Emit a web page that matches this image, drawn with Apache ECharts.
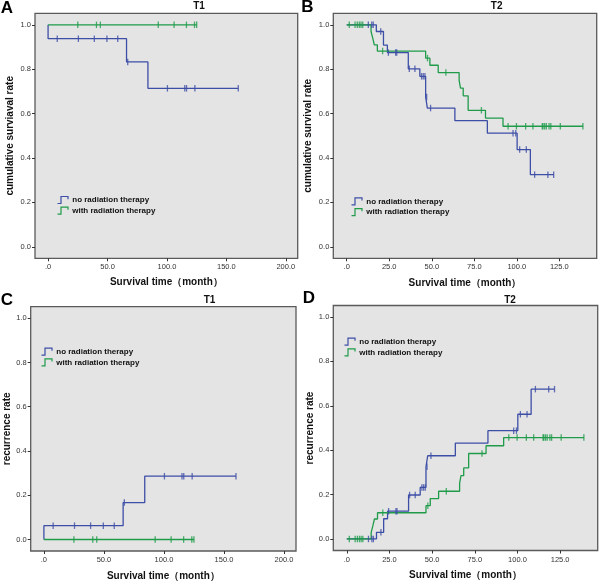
<!DOCTYPE html>
<html><head><meta charset="utf-8">
<script src="https://cdn.jsdelivr.net/npm/echarts@6/dist/echarts.min.js"></script>
<style>html,body{margin:0;padding:0;background:#fff}#c{width:600px;height:584px}</style>
</head><body><div id="c"></div>
<script>
// ---- Data ----
const groupNames = ['no radiation therapy', 'with radiation therapy'];
const yTicks = [0, 0.2, 0.4, 0.6, 0.8, 1.0];
const t1XTicks = [0, 50, 100, 150, 200];
const t2XTicks = [0, 25, 50, 75, 100, 125];

// T1, no radiation therapy
const t1NoTimes = [0, 0, 66, 84, 160];
const t1NoSurvival = [1, 0.9375, 0.833, 0.714, 0.714];
const t1NoRecurrence = [0, 0.0625, 0.167, 0.286, 0.286];
const t1NoCensored = [7.7, 25.5, 38.9, 49.5, 58.6, 67, 100.4, 115, 116.5, 123.5, 160];
// T1, with radiation therapy
const t1WithTimes = [0, 125];
const t1WithSurvival = [1, 1];
const t1WithRecurrence = [0, 0];
const t1WithCensored = [25, 40.7, 44, 92.7, 106, 116.4, 123.2, 125];

// T2, no radiation therapy
const t2NoTimes = [0, 17.4, 21.6, 23.9, 36.2, 43, 46.4, 47.4, 63.6, 82.7, 100.2, 108, 121.7];
const t2NoSurvival = [1, 0.97, 0.909, 0.875, 0.802, 0.768, 0.675, 0.625, 0.568, 0.512, 0.438, 0.325, 0.325];
const t2NoRecurrence = [0, 0.03, 0.091, 0.125, 0.198, 0.232, 0.325, 0.375, 0.432, 0.488, 0.562, 0.675, 0.675];
const t2NoCensored = [12.7, 14.7, 15.6, 20, 24.5, 28.8, 29.4, 36.8, 40.1, 44, 45, 46, 47, 49.3, 97.8, 99.4, 101.7, 105.6, 110.5, 118.3, 121.7];
// T2, with radiation therapy
const t2WithTimes = [0, 14.3, 15.3, 16.2, 18, 46.4, 48.9, 53.8, 66.1, 66.9, 68.5, 71.4, 81.6, 91.9, 138.9];
const t2WithSurvival = [1, 0.97, 0.94, 0.91, 0.882, 0.85, 0.818, 0.785, 0.75, 0.715, 0.68, 0.615, 0.58, 0.543, 0.543];
const t2WithRecurrence = [0, 0.03, 0.06, 0.09, 0.118, 0.15, 0.182, 0.215, 0.25, 0.285, 0.32, 0.385, 0.42, 0.457, 0.457];
const t2WithCensored = [1.5, 4.9, 6.2, 7.4, 8.4, 9.4, 21.1, 47.5, 58.3, 79.2, 94.9, 99.8, 105.2, 109.5, 115, 115.4, 116.4, 117.4, 119, 120, 125.6, 138.9];

// ---- Styling / layout ----
const BLUE = '#3d4ea6';
const GREEN = '#1f9b4a';
const FONT = "'Liberation Sans Narrow', 'Liberation Sans', Arial, sans-serif";
const TITLE_FONT = "'Liberation Sans', Arial, sans-serif";

const panels = [
  { letter: 'A', title: 'T1', grid: { left: 35, top: 13.3, width: 262.7, height: 245 }, xr: [-11, 210], xt: t1XTicks,
    yName: 'cumulative surviaval rate', yGap: 20, xGap: 19,
    curves: [[t1NoTimes, t1NoSurvival, t1NoCensored], [t1WithTimes, t1WithSurvival, t1WithCensored]],
    legendPos: { left: 55, top: 194 }, letterPos: [7, 8], titlePos: [199, 6.5] },
  { letter: 'B', title: 'T2', grid: { left: 333.3, top: 13.3, width: 263.4, height: 245 }, xr: [-7.9, 147], xt: t2XTicks,
    yName: 'cumulative survival rate', yGap: 20, xGap: 20,
    curves: [[t2NoTimes, t2NoSurvival, t2NoCensored], [t2WithTimes, t2WithSurvival, t2WithCensored]],
    legendPos: { left: 349, top: 195.4 }, letterPos: [307.5, 7], titlePos: [496.7, 6.5] },
  { letter: 'C', title: 'T1', grid: { left: 30.7, top: 306.7, width: 265.3, height: 244.3 }, xr: [-11, 210], xt: t1XTicks,
    yName: 'recurrence rate', yGap: 18.5, xGap: 20,
    curves: [[t1NoTimes, t1NoRecurrence, t1NoCensored], [t1WithTimes, t1WithRecurrence, t1WithCensored]],
    legendPos: { left: 39, top: 345.7 }, letterPos: [7, 300.5], titlePos: [209.5, 300] },
  { letter: 'D', title: 'T2', grid: { left: 333.3, top: 305.5, width: 264.4, height: 245 }, xr: [-7.9, 147], xt: t2XTicks,
    yName: 'recurrence rate', yGap: 18.5, xGap: 20,
    curves: [[t2NoTimes, t2NoRecurrence, t2NoCensored], [t2WithTimes, t2WithRecurrence, t2WithCensored]],
    legendPos: { left: 342, top: 335.7 }, letterPos: [309, 298.5], titlePos: [510, 300] }
];
const colors = [BLUE, GREEN];

function valueAt(times, vals, t) {
  let v = vals[0];
  for (let i = 0; i < times.length; i++) { if (times[i] <= t) v = vals[i]; }
  return v;
}

const grids = [], xAxes = [], yAxes = [], series = [], legends = [], graphics = [];
const axisTextStyle = { fontSize: 7.5, color: '#333', fontFamily: FONT };
const nameStyle = { fontSize: 10, fontWeight: 'bold', color: '#111', fontFamily: FONT };

panels.forEach((p, i) => {
  grids.push(Object.assign({ show: true, backgroundColor: '#e4e4e4', borderColor: '#5a5a5a', borderWidth: 1.3 }, p.grid));
  xAxes.push({
    type: 'value', gridIndex: i, min: p.xr[0], max: p.xr[1], position: 'bottom',
    name: 'Survival time（month）', nameLocation: 'middle', nameGap: p.xGap, nameTextStyle: nameStyle,
    axisLine: { show: false, onZero: false }, splitLine: { show: false },
    axisTick: { show: true, inside: false, length: 3, customValues: p.xt, lineStyle: { color: '#333', width: 1 } },
    axisLabel: Object.assign({ customValues: p.xt, margin: 5, formatter: v => v === 0 ? '.0' : v.toFixed(1) }, axisTextStyle)
  });
  yAxes.push({
    type: 'value', gridIndex: i, min: -0.052, max: 1.052, position: 'left',
    name: p.yName, nameLocation: 'middle', nameGap: p.yGap, nameRotate: 90, nameTextStyle: nameStyle,
    axisLine: { show: false, onZero: false }, splitLine: { show: false },
    axisTick: { show: true, inside: false, length: 3, customValues: yTicks, lineStyle: { color: '#333', width: 1 } },
    axisLabel: Object.assign({ customValues: yTicks, margin: 4, formatter: v => v.toFixed(1) }, axisTextStyle)
  });
  p.curves.forEach((c, k) => {
    const [times, vals, cens] = c;
    series.push({
      name: groupNames[k], type: 'line', step: 'end', xAxisIndex: i, yAxisIndex: i,
      showSymbol: false, silent: true, color: colors[k],
      lineStyle: { width: 1.3, color: colors[k] },
      data: times.map((t, j) => [t, vals[j]]), z: 3
    });
    series.push({
      name: 'censored ' + p.letter + k, type: 'scatter', xAxisIndex: i, yAxisIndex: i,
      symbol: 'rect', symbolSize: [1.3, 6.5], silent: true,
      itemStyle: { color: colors[k] },
      data: cens.map(t => [t, valueAt(times, vals, t)]), z: 4
    });
  });
  legends.push(Object.assign({
    orient: 'vertical', itemWidth: 13, itemHeight: 7, itemGap: -1.3, padding: 0,
    icon: 'path://M0,9 L4,9 L4,1 L12,1 L12,4',
    selectedMode: false,
    textStyle: { fontSize: 8, fontWeight: 'bold', color: '#111', fontFamily: FONT, lineHeight: 8, padding: [0, 0, 0, -2] },
    data: groupNames.map((n, k) => ({ name: n, itemStyle: { color: 'none', borderColor: colors[k], borderWidth: 1.2 } }))
  }, p.legendPos));
  graphics.push({ type: 'text', x: p.letterPos[0], y: p.letterPos[1],
    style: { text: p.letter, fontSize: 17, fontWeight: 'bold', fontFamily: TITLE_FONT, fill: '#000', align: 'center', verticalAlign: 'middle' } });
  graphics.push({ type: 'text', x: p.titlePos[0], y: p.titlePos[1],
    style: { text: p.title, fontSize: 10, fontWeight: 'bold', fontFamily: TITLE_FONT, fill: '#111', align: 'center', verticalAlign: 'middle' } });
});

const chart = echarts.init(document.getElementById('c'), null, { renderer: 'canvas' });
chart.setOption({
  animation: false,
  backgroundColor: '#fff',
  grid: grids, xAxis: xAxes, yAxis: yAxes, series: series, legend: legends, graphic: graphics
});
</script></body></html>
